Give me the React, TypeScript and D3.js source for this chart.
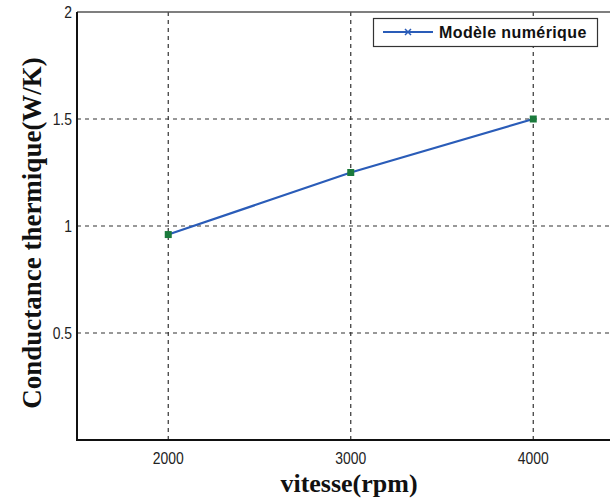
import React from "react";
import * as d3 from "d3";

const speeds = [2000, 3000, 4000];
const conductance = [0.96, 1.25, 1.5];
const xTicks = [2000, 3000, 4000];
const yTicks = [0.5, 1, 1.5, 2];
const seriesName = "Modèle numérique";

const W = 610;
const H = 498;
const left = 77;
const top = 12;
const bottom = 440;

export default function App() {
  const x = d3.scaleLinear().domain([1500, 4500]).range([left, left + 3 * 182.5]);
  const y = d3.scaleLinear().domain([0, 2]).range([bottom, top]);
  const pts = speeds.map((s, i) => [s, conductance[i]] as [number, number]);
  const line = d3
    .line<[number, number]>()
    .x((d) => x(d[0]))
    .y((d) => y(d[1]));
  const right = x(4500);
  return (
    <svg
      width={W}
      height={H}
      style={{ position: "fixed", left: 0, top: 0, background: "#fff" }}
    >
      <rect x={0} y={0} width={W} height={H} fill="#fff" />
      {xTicks.map((t) => (
        <line
          key={"gx" + t}
          x1={x(t)}
          x2={x(t)}
          y1={top}
          y2={bottom}
          stroke="#333"
          strokeWidth={1.2}
          strokeDasharray="4,4"
        />
      ))}
      {yTicks
        .filter((t) => t < 2)
        .map((t) => (
          <line
            key={"gy" + t}
            x1={left}
            x2={right}
            y1={y(t)}
            y2={y(t)}
            stroke="#333"
            strokeWidth={1.2}
            strokeDasharray="4,4"
          />
        ))}
      <line x1={left} x2={right} y1={top} y2={top} stroke="#555" strokeWidth={1.5} />
      <line x1={left} x2={left} y1={top} y2={bottom + 1} stroke="#111" strokeWidth={2} />
      <line x1={left} x2={right} y1={bottom} y2={bottom} stroke="#111" strokeWidth={2} />
      {yTicks.map((t) => (
        <text
          key={"ty" + t}
          x={left - 5}
          y={y(t) + 6}
          textAnchor="end"
          fontFamily="Liberation Sans, Arial, sans-serif"
          fontSize={17}
          fill="#222"
          transform={`translate(${left - 5},0) scale(0.82,1) translate(${-(left - 5)},0)`}
        >
          {t}
        </text>
      ))}
      {xTicks.map((t) => (
        <text
          key={"tx" + t}
          x={x(t)}
          y={bottom + 24}
          textAnchor="middle"
          fontFamily="Liberation Sans, Arial, sans-serif"
          fontSize={17}
          fill="#222"
          transform={`translate(${x(t)},0) scale(0.82,1) translate(${-x(t)},0)`}
        >
          {t}
        </text>
      ))}
      <path d={line(pts) || ""} fill="none" stroke="#2a5cb8" strokeWidth={2.2} />
      {pts.map((p, i) => (
        <rect
          key={"m" + i}
          x={x(p[0]) - 3.5}
          y={y(p[1]) - 3.5}
          width={7}
          height={7}
          fill="#1b7a3c"
        />
      ))}
      <text
        x={349}
        y={492}
        textAnchor="middle"
        fontFamily="Liberation Serif, Times New Roman, serif"
        fontWeight="bold"
        fontSize={26}
        fill="#111"
      >
        vitesse(rpm)
      </text>
      <text
        transform={`translate(41,233) rotate(-90)`}
        textAnchor="middle"
        fontFamily="Liberation Serif, Times New Roman, serif"
        fontWeight="bold"
        fontSize={27}
        fill="#111"
      >
        Conductance thermique(W/K)
      </text>
      <rect x={373.5} y={18.5} width={224} height={28} fill="#fff" stroke="#333" strokeWidth={1.2} />
      <line x1={383} x2={433} y1={32} y2={32} stroke="#2a5cb8" strokeWidth={2} />
      <path d="M405,29 L411,35 M411,29 L405,35" stroke="#2a5cb8" strokeWidth={1.5} />
      <text
        x={439}
        y={38}
        fontFamily="Liberation Sans, Arial, sans-serif"
        fontWeight="bold"
        fontSize={16}
        letterSpacing={0.4}
        fill="#111"
      >
        {seriesName}
      </text>
    </svg>
  );
}
